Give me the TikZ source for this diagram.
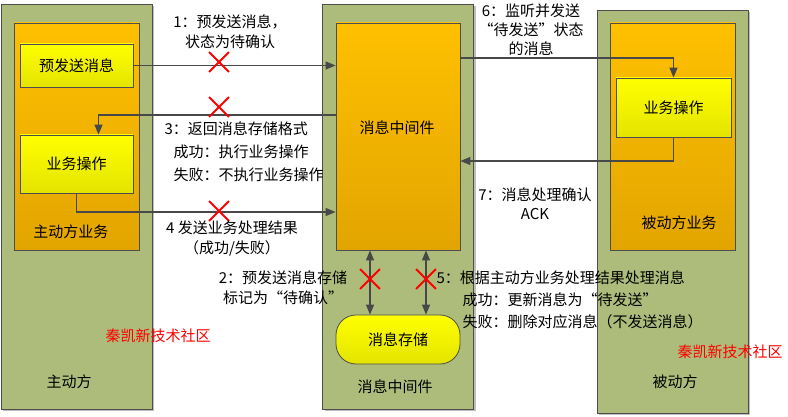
\documentclass[tikz,border=0pt]{standalone}
\usepackage{fontspec}
\setmainfont{Noto Sans CJK SC}
\usepackage{tikz}
\usetikzlibrary{arrows.meta, positioning, shapes.misc, shadows}

\definecolor{panelgreen}{RGB}{173,188,122}
\definecolor{edgegray}{RGB}{77,77,77}
\definecolor{arrgray}{RGB}{72,72,72}
\definecolor{orgtop}{RGB}{255,192,0}
\definecolor{orgbot}{RGB}{226,165,0}
\definecolor{yeltop}{RGB}{255,255,0}
\definecolor{yelbot}{RGB}{228,228,0}

\begin{document}
\begin{tikzpicture}[
			x=1pt, y=-1pt,
			font=\fontsize{15}{20}\selectfont,
			shadowed/.style={drop shadow={shadow xshift=2pt,shadow yshift=-2pt,fill=black,opacity=0.25}},
			panel/.style={draw=edgegray,line width=0.8pt,fill=panelgreen,shadowed,minimum width=151pt,minimum height=405pt,inner sep=0pt},
			inbox/.style={draw=edgegray,line width=0.8pt,top color=orgtop,bottom color=orgbot,minimum width=125pt,minimum height=227pt,inner sep=0pt},
			opbox/.style={draw=edgegray,line width=0.8pt,top color=yeltop,bottom color=yelbot,minimum width=113pt,inner sep=0pt},
			flow/.style={draw=arrgray,line width=1.3pt,-{Triangle[length=10pt,width=8pt]}},
			both/.style={draw=arrgray,line width=1.3pt,{Triangle[length=10pt,width=8pt]}-{Triangle[length=10pt,width=8pt]}},
			xmark/.style={cross out,draw=red,line width=1.8pt,minimum size=18pt,inner sep=0pt},
			wmark/.style={text=red}
			]
			\useasboundingbox (0,0) rectangle (788,417);
			
			% three columns
			\node[panel] (pA) at (76.5,206.5) {};
			\node[panel] (pM) at (398,206.5) {};
			\node[panel,minimum height=403pt] (pB) at (672.5,211.5) {};
			
			\node[inbox] (bA) at (76.5,136.5) {};
			\node[inbox,minimum width=124pt] (bM) at (398,136.5) {};
			\node[inbox] (bB) at (672.5,136.5) {};
			
			\node[opbox,minimum height=43pt] (pre) at (76.5,65.5) {预发送消息};
			\node[opbox,minimum height=58pt] (opA) at (76.5,164) {业务操作};
			\node[opbox,minimum width=115pt,minimum height=59pt] (opB) at (673.5,107.5) {业务操作};
			\node[opbox,minimum width=124pt,minimum height=49pt,rounded corners=20pt] (store) at (398,339.5) {消息存储};
			
			\node (lA) at (71,232) {主动方业务};
			\node (lA2) at (69,382) {主动方};
			\node (lM) at (397,128) {消息中间件};
			\node (lM2) at (395,387) {消息中间件};
			\node (lB) at (679,223) {被动方业务};
			\node (lB2) at (675,382) {被动方};
			
			% connectors
			\draw[flow] (pre.east) -- (pre.east -| bM.west);
			\draw[flow] (bM.west |- 0,115) -| ([xshift=22pt]opA.north);
			\draw[flow] (opA.south) |- (bM.west |- 0,212);
			\draw[flow] (bM.east |- 0,58) -| (opB.north);
			\draw[flow] (opB.south) |- (bM.east |- 0,161);
			\draw[both] ([xshift=-28pt]bM.south) -- ([xshift=-28pt]store.north);
			\draw[both] ([xshift=28pt]bM.south) -- ([xshift=28pt]store.north);
			
			\node[xmark] (x1) at (219,62) {};
			\node[xmark] (x3) at (219,107) {};
			\node[xmark] (x4) at (219,211) {};
			\node[xmark] (x2) at (370,279) {};
			\node[xmark] (x5) at (426,279) {};
			
			% step texts
			\node[align=center] (t1) at (230,32) {1：预发送消息，\\状态为待确认};
			\node[align=left,anchor=west,font=\fontsize{15}{23}\selectfont] (t3) at (161,152) {3：返回消息存储格式\\\hspace*{9pt}成功：执行业务操作\\\hspace*{9pt}失败：不执行业务操作};
			\node[align=center] (t4) at (232,239) {4 发送业务处理结果\\（成功/失败）};
			\node[align=center] (t2) at (283,288) {2：预发送消息存储\\标记为“待确认”};
			\node[align=left,anchor=west,font=\fontsize{15}{22}\selectfont] (t5) at (433,300) {5：根据主动方业务处理结果处理消息\\\hspace*{26pt}成功：更新消息为“待发送”\\\hspace*{26pt}失败：删除对应消息（不发送消息）};
			\node[align=center,font=\fontsize{15}{19}\selectfont] (t6) at (531,30) {6：监听并发送\\“待发送”状态\\的消息};
			\node[align=center,font=\fontsize{15}{19}\selectfont] (t7) at (535,204) {7：消息处理确认\\ACK};
			
			\node[wmark] (w1) at (158,336) {秦凯新技术社区};
			\node[wmark] (w2) at (730,352) {秦凯新技术社区};
		\end{tikzpicture}
\end{document}
